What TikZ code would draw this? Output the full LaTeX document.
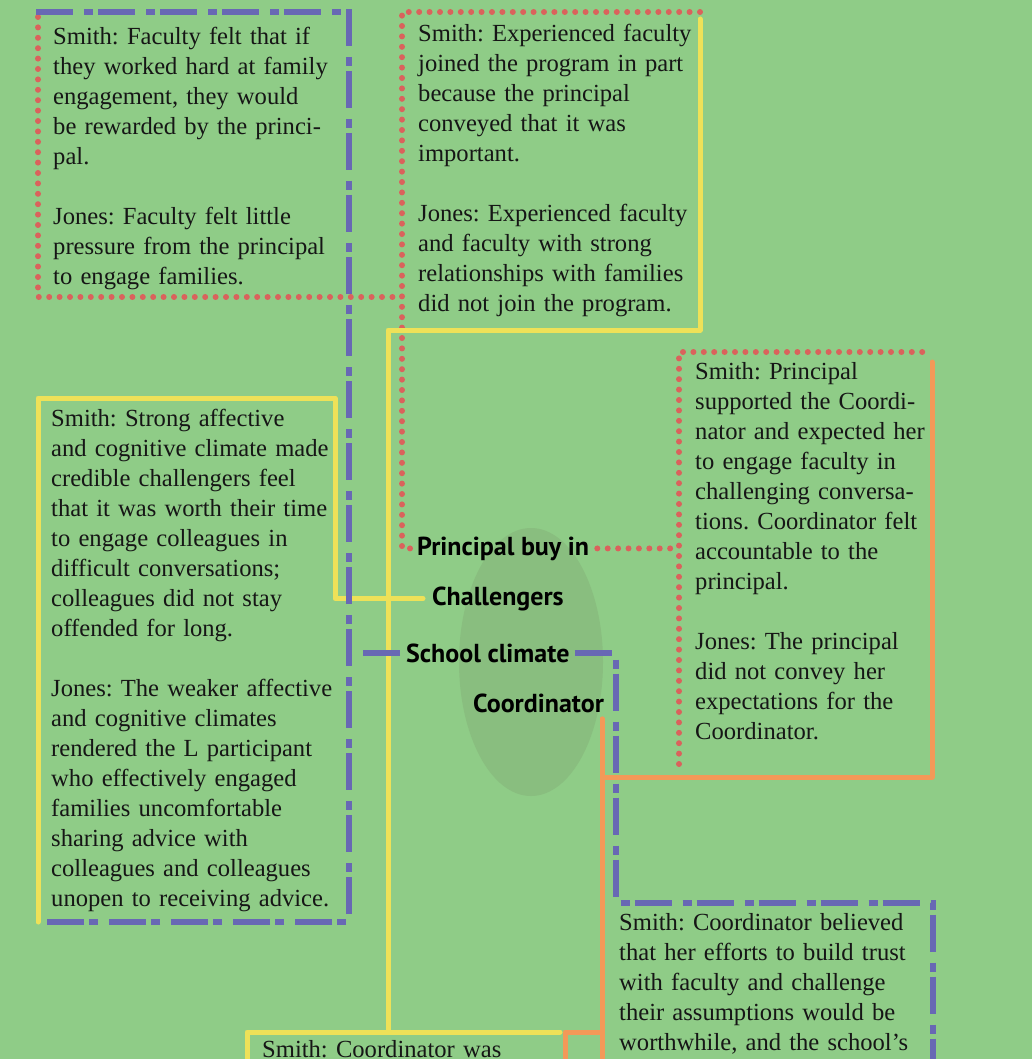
\documentclass[tikz,border=0pt]{standalone}
\usepackage{fontspec}
\setmainfont{Liberation Serif}
\newfontfamily\labelfont{PT Sans}
\definecolor{bg}{RGB}{143,204,135}
\definecolor{hub}{RGB}{137,190,127}
\definecolor{blu}{RGB}{104,104,180}
\definecolor{rdot}{RGB}{218,98,92}
\definecolor{ylw}{RGB}{238,225,88}
\definecolor{org}{RGB}{243,153,88}
\definecolor{ink}{RGB}{22,22,22}
\frenchspacing
\begin{document}
\begin{tikzpicture}[x=1pt,y=-1pt,
  note/.style={anchor=base west, inner sep=0pt, align=left, text width=360pt,
    font=\fontsize{24.6}{30}\selectfont, text=ink},
  factor/.style={anchor=base west, inner sep=0pt,
    font=\labelfont\bfseries\fontsize{26}{30}\selectfont, text=black},
  yline/.style={draw=ylw, line width=5pt, line cap=round, line join=round},
  oline/.style={draw=org, line width=5pt, line cap=round, line join=round},
  rdots/.style={draw=rdot, line width=6pt, line cap=round, dash pattern=on 0pt off 10.4pt},
  bdash/.style={draw=blu, line width=5.5pt, dash pattern=on 37pt off 11pt on 9pt off 5pt},
]
\useasboundingbox (0,0) rectangle (1032,1059);
\clip (0,0) rectangle (1032,1059);
\fill[bg] (0,0) rectangle (1032,1059);
\coordinate (bottomedge) at (0,1075);

% central hub
\fill[hub] (531,662) ellipse [x radius=72, y radius=134];

% box corners
\coordinate (A-tl) at (36,12);
\coordinate (A-tr) at (349,12);
\coordinate (A-rl) at (38,17);
\coordinate (A-bl) at (38,297);
\coordinate (B-tl) at (402,12);
\coordinate (B-tr) at (700,12);
\coordinate (B-yt) at (700,19);
\coordinate (B-yb) at (700,330);
\coordinate (C-tl) at (38,398);
\coordinate (C-tr) at (335,398);
\coordinate (C-bl) at (38,922);
\coordinate (C-br) at (349,922);
\coordinate (C-bs) at (40,922);
\coordinate (D-tl) at (679,352);
\coordinate (D-tr) at (931,352);
\coordinate (D-bl) at (679,764);
\coordinate (D-ot) at (932,362);
\coordinate (D-ob) at (932,777);
\coordinate (F-tl) at (616,903);
\coordinate (F-tr) at (933,903);
\coordinate (E-tl) at (247,1032);
\coordinate (E-top) at (388,1032);
\coordinate (E-ty) at (560,1032);
\coordinate (E-tr) at (565,1032);

% factor labels
\node[factor] (principal) at (417,555) {Principal buy in};
\node[factor] (challengers) at (432,605) {Challengers};
\node[factor] (climate) at (406,662) {School climate};
\node[factor] (coordinator) at (473,712) {Coordinator};
\coordinate (O-top) at (602,719);

% principal buy in (red dotted)
\draw[rdots] (A-rl) -- (A-bl) -- (A-bl -| B-tl);
\draw[rdots] ([xshift=-7pt]principal.west) -| (B-tl) -- (B-tr);
\draw[rdots] ([xshift=8pt]principal.east) -- (principal.east -| D-tl);
\draw[rdots] (D-bl) -- (D-tl) -- (D-tr);

% challengers (yellow)
\draw[yline] ([xshift=-9pt]challengers.west) -| (C-tr) -- (C-tl) -- (C-bl);
\draw[yline] (B-yt) -- (B-yb) -| (E-top);
\draw[yline] (E-tl |- bottomedge) -- (E-tl) -- (E-ty);

% school climate (blue dash-dot)
\draw[bdash] (A-tl) -- (A-tr) -- (C-br) -- (C-bs);
\draw[bdash] ([xshift=-6pt]climate.west) -- (climate.west -| A-tr);
\draw[bdash] ([xshift=5pt]climate.east) -| (F-tl) -- (F-tr) -- (F-tr |- bottomedge);

% coordinator (orange)
\draw[oline] (O-top) |- (D-ob) -- (D-ot);
\draw[oline] (O-top) -- (O-top |- bottomedge);
\draw[oline] (O-top |- E-tr) -- (E-tr) -- (E-tr |- bottomedge);

% text boxes
\node[note] (noteA) at (53,45) {Smith: Faculty felt that if\\they worked hard at family\\engagement, they would\\be rewarded by the princi-\\pal.\\[30pt]Jones: Faculty felt little\\pressure from the principal\\to engage families.};
\node[note] (noteB) at (418,42) {Smith: Experienced faculty\\joined the program in part\\because the principal\\conveyed that it was\\important.\\[30pt]Jones: Experienced faculty\\and faculty with strong\\relationships with families\\did not join the program.};
\node[note] (noteC) at (51,426) {Smith: Strong affective\\and cognitive climate made\\credible challengers feel\\that it was worth their time\\to engage colleagues in\\difficult conversations;\\colleagues did not stay\\offended for long.\\[30pt]Jones: The weaker affective\\and cognitive climates\\rendered the L participant\\who effectively engaged\\families uncomfortable\\sharing advice with\\colleagues and colleagues\\unopen to receiving advice.};
\node[note] (noteD) at (695,379) {Smith: Principal\\supported the Coordi-\\nator and expected her\\to engage faculty in\\challenging conversa-\\tions. Coordinator felt\\accountable to the\\principal.\\[30pt]Jones: The principal\\did not convey her\\expectations for the\\Coordinator.};
\node[note] (noteF) at (619,930) {Smith: Coordinator believed\\that her efforts to build trust\\with faculty and challenge\\their assumptions would be\\worthwhile, and the school's};
\node[note] (noteE) at (262,1057) {Smith: Coordinator was};
\end{tikzpicture}
\end{document}
